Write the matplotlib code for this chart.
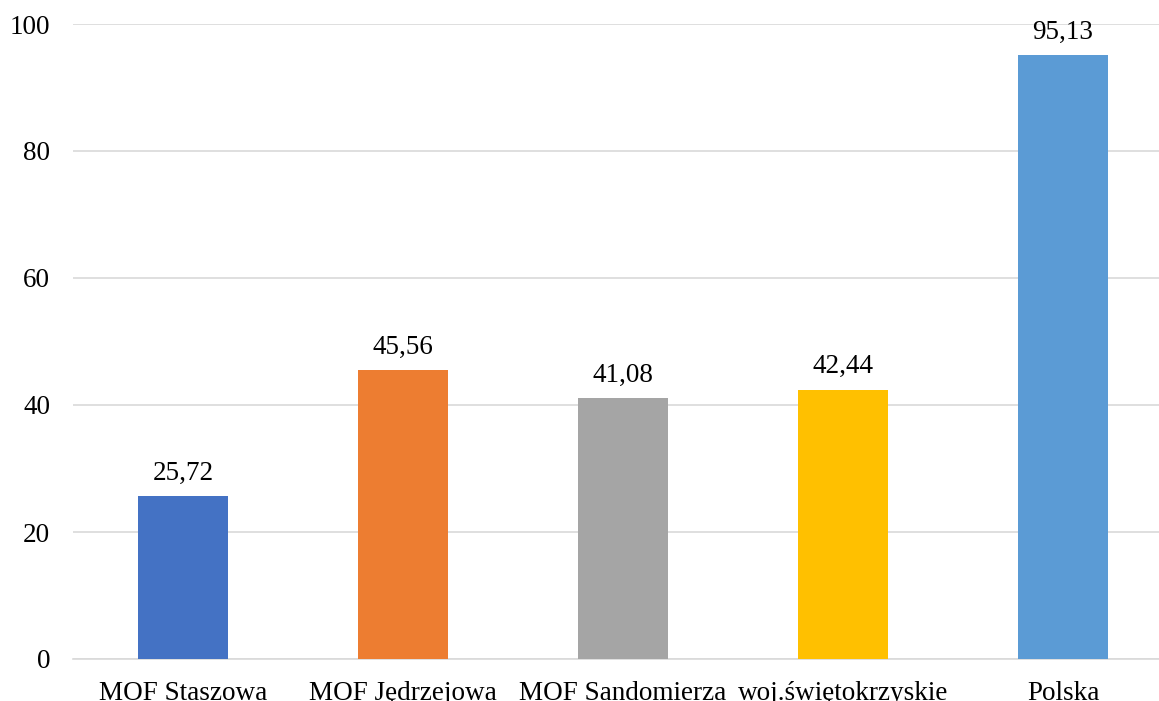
import matplotlib
matplotlib.use("Agg")
import matplotlib.pyplot as plt

categories = ["MOF Staszowa", "MOF Jędrzejowa", "MOF Sandomierza", "woj.świętokrzyskie", "Polska"]
values = [25.72, 45.56, 41.08, 42.44, 95.13]
labels = ["25,72", "45,56", "41,08", "42,44", "95,13"]
colors = ["#4472C4", "#ED7D31", "#A5A5A5", "#FFC000", "#5B9BD5"]

plt.rcParams['font.family'] = ['Liberation Serif', 'DejaVu Serif']

W, H = 1159, 701
fig = plt.figure(figsize=(W / 100, H / 100), dpi=100)
ax = fig.add_axes([73 / W, 42 / H, 1100 / W, 635 / H])

FS = 19.5
x = range(len(categories))
ax.bar(x, values, width=0.405, color=colors, zorder=3)
for i, (v, lab) in enumerate(zip(values, labels)):
    ax.text(i, v + 1.6, lab, ha='center', va='bottom', fontsize=FS, color='black')

ax.set_xlim(-0.5, 4.5)
ax.set_ylim(0, 100)
ax.set_yticks([0, 20, 40, 60, 80, 100])
ax.set_yticklabels(["0", "20", "40", "60", "80", "100"], fontsize=FS)
ax.set_xticks(list(x))
ax.set_xticklabels(categories, fontsize=FS)
ax.tick_params(axis='both', length=0)
ax.tick_params(axis='y', pad=16.5)
ax.tick_params(axis='x', pad=15.5)
ax.grid(axis='y', color='#D9D9D9', linewidth=1.2, zorder=0)
for s in ['top', 'right', 'left']:
    ax.spines[s].set_visible(False)
ax.spines['bottom'].set_color('#D9D9D9')
ax.spines['bottom'].set_linewidth(1.2)

fig.savefig("out.png", dpi=100)
